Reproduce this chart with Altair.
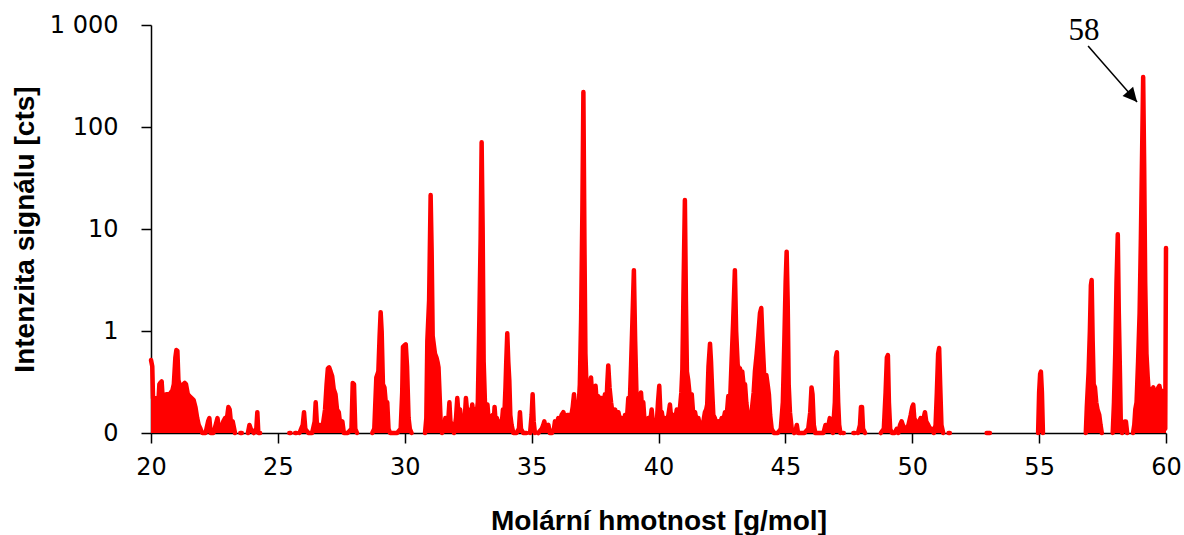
import altair as alt
import pandas as pd

# m/z values and intensities; None marks a gap (no data) in the recorded spectrum
mz = [
    20.00, 20.05, 20.08, 20.15, 20.22, 20.28, 20.33, 20.37, 20.42, 20.47, 20.55, 20.60, 20.66, 20.72,
    20.78, 20.84, 20.90, 20.96, 21.00, 21.04, 21.08, 21.14, 21.21, 21.27, 21.33, 21.38, 21.45, 21.52,
    21.60, 21.68, 21.75, 21.82, 21.88, 21.95, 22.02, 22.15, 22.25, 22.30, 22.35, 22.46, 22.55, 22.62,
    22.68, 22.76, 22.85, 22.92, 22.98, 23.05, 23.10, 23.16, 23.22, 23.31, None,
    23.52, 23.58, None,
    23.82, 23.88, 23.93, 24.05, 24.15, 24.19, 24.23, 24.30, None,
    25.45, 25.50, None,
    25.68, 25.73, None,
    25.85, 25.98, 26.03, 26.08, 26.20, 26.35, 26.45, 26.49, 26.54, 26.66, 26.75, 26.86, 26.92, 26.97,
    27.02, 27.08, 27.14, 27.20, 27.27, 27.33, 27.40, 27.46, 27.54, 27.60, 27.75, 27.90, 27.95, 28.00,
    28.05, 28.12, None,
    28.72, 28.80, 28.88, 28.96, 29.01, 29.05, 29.09, 29.14, 29.20, 29.25, 29.31, 29.36, 29.42, 29.55,
    29.70, 29.84, 29.90, 29.93, 29.98, 30.04, 30.09, 30.15, 30.20, 30.27, None,
    30.80, 30.85, 30.89, 30.96, 31.02, 31.06, 31.10, 31.14, 31.19, 31.25, 31.29, 31.33, 31.37, 31.42,
    31.47, 31.55, 31.60, 31.65, 31.72, 31.76, 31.80, 31.85, 31.94, 32.02, 32.07, 32.12, 32.18, 32.24,
    32.29, 32.35, 32.41, 32.46, 32.51, 32.58, 32.66, 32.72, 32.78, 32.83, 32.88, 32.94, 32.99, 33.03,
    33.07, 33.11, 33.16, 33.22, 33.26, 33.32, 33.37, 33.46, 33.50, 33.54, 33.58, 33.63, 33.70, 33.76,
    33.82, 33.87, 33.93, 33.97, 34.00, 34.04, 34.08, 34.12, 34.16, 34.21, 34.28, 34.40, 34.50, 34.54,
    34.58, 34.67, 34.80, None,
    34.94, 35.00, 35.04, 35.08, 35.13, None,
    35.26, 35.40, 35.46, 35.50, 35.56, 35.66, 35.72, 35.80, 35.88, 35.92, 35.98, 36.05, 36.12, 36.18,
    36.25, 36.32, 36.40, 36.47, 36.55, 36.62, 36.67, 36.72, 36.78, 36.84, 36.90, 36.95, 37.00, 37.04,
    37.08, 37.12, 37.17, 37.22, 37.28, 37.34, 37.39, 37.43, 37.48, 37.52, 37.57, 37.63, 37.69, 37.76,
    37.82, 37.89, 37.94, 37.98, 38.02, 38.07, 38.13, 38.20, 38.29, 38.35, 38.42, 38.49, 38.55, 38.62,
    38.68, 38.75, 38.81, 38.87, 38.92, 38.97, 39.03, 39.08, 39.14, 39.20, 39.26, 39.31, 39.36, 39.40,
    39.45, 39.49, 39.55, 39.60, 39.66, 39.73, 39.79, 39.86, 39.92, 39.98, 40.03, 40.08, 40.13, 40.20,
    40.26, 40.32, 40.39, 40.45, 40.51, 40.58, 40.65, 40.72, 40.78, 40.85, 40.90, 40.94, 40.99, 41.04,
    41.08, 41.12, 41.17, 41.24, 41.31, 41.37, 41.44, 41.50, 41.57, 41.63, 41.70, 41.77, 41.83, 41.88,
    41.92, 41.97, 42.03, 42.07, 42.11, 42.16, 42.22, 42.29, 42.36, 42.42, 42.49, 42.55, 42.62, 42.68,
    42.75, 42.82, 42.88, 42.94, 43.01, 43.06, 43.12, 43.17, 43.21, 43.26, 43.30, 43.35, 43.41, 43.46,
    43.52, 43.56, 43.60, 43.65, 43.70, 43.75, 43.80, 43.87, 43.93, 44.00, 44.05, 44.10, 44.17, 44.25,
    44.30, 44.35, 44.40, 44.46, 44.55, 44.70, 44.82, 44.90, 44.96, 45.01, 45.05, 45.09, 45.13, 45.18,
    45.25, 45.35, 45.42, 45.45, 45.50, 45.60, 45.75, 45.90, 45.98, 46.03, 46.07, 46.12, 46.18, 46.35,
    46.50, 46.58, 46.62, 46.70, 46.75, 46.80, 46.87, 46.95, 46.99, 47.03, 47.08, 47.12, 47.17, None,
    47.26, 47.30, None,
    47.68, 47.73, None,
    47.86, 47.94, 47.98, 48.02, 48.06, 48.14, None,
    48.76, 48.88, 48.95, 49.00, 49.04, 49.08, 49.13, 49.20, 49.30, 49.39, 49.45, 49.52, 49.58, 49.63,
    49.70, 49.78, 49.85, 49.94, 50.00, 50.04, 50.08, 50.14, 50.20, 50.27, 50.33, 50.38, 50.45, 50.50,
    50.55, 50.63, 50.70, 50.77, 50.85, 50.92, 50.97, 51.02, 51.06, 51.10, 51.15, 51.22, None,
    51.43, 51.48, None,
    52.93, 53.06, None,
    54.96, 55.00, 55.04, 55.07, 55.11, 55.15, None,
    56.84, 56.88, 56.95, 57.00, 57.04, 57.07, 57.11, 57.15, 57.20, 57.25, 57.30, 57.37, 57.42, 57.47, None,
    57.90, 57.95, 58.00, 58.05, 58.10, 58.14, 58.18, 58.22, 58.27, 58.33, 58.38, 58.42, 58.47, None,
    58.70, 58.75, 58.79, 58.84, 58.90, 58.96, 59.01, 59.06, 59.10, 59.14, 59.18, 59.23, 59.28, 59.33,
    59.37, 59.42, 59.46, 59.50, 59.55, 59.60, 59.65, 59.70, 59.74, 59.79, 59.83, 59.88, 59.92, 59.97,
    60.00,
]

cts = [
    0.52, 0.45, 0.22, 0.21, 0.22, 0.18, 0.30, 0.31, 0.32, 0.20, 0.18, 0.24, 0.24, 0.18,
    0.25, 0.26, 0.30, 0.55, 0.65, 0.64, 0.33, 0.29, 0.28, 0.30, 0.31, 0.30, 0.24, 0.23,
    0.22, 0.21, 0.18, 0.14, 0.12, 0.11, 0.10, 0.10, 0.13, 0.14, 0.10, 0.10, 0.12, 0.14,
    0.11, 0.11, 0.13, 0.14, 0.13, 0.18, 0.17, 0.12, 0.13, 0.10, None,
    0.10, 0.10, None,
    0.10, 0.12, 0.11, 0.10, 0.11, 0.16, 0.10, 0.10, None,
    0.10, 0.10, None,
    0.10, 0.10, None,
    0.10, 0.12, 0.16, 0.11, 0.10, 0.10, 0.13, 0.20, 0.12, 0.12, 0.11, 0.17, 0.30, 0.43,
    0.44, 0.40, 0.36, 0.27, 0.24, 0.17, 0.16, 0.12, 0.13, 0.10, 0.10, 0.11, 0.31, 0.30,
    0.11, 0.10, None,
    0.10, 0.11, 0.35, 0.40, 0.90, 1.53, 1.00, 0.30, 0.28, 0.20, 0.20, 0.11, 0.10, 0.10,
    0.10, 0.11, 0.25, 0.70, 0.72, 0.74, 0.45, 0.14, 0.11, 0.10, None,
    0.10, 0.14, 0.80, 2.0, 21.5, 6.0, 0.90, 0.75, 0.60, 0.55, 0.50, 0.44, 0.25, 0.12,
    0.10, 0.11, 0.14, 0.12, 0.14, 0.20, 0.13, 0.12, 0.10, 0.14, 0.22, 0.15, 0.17, 0.12,
    0.13, 0.12, 0.22, 0.16, 0.17, 0.12, 0.19, 0.14, 0.17, 0.15, 0.20, 1.3, 8.0, 71.0,
    10.0, 0.50, 0.20, 0.17, 0.19, 0.12, 0.13, 0.15, 0.12, 0.18, 0.13, 0.14, 0.12, 0.13,
    0.12, 0.17, 0.16, 0.28, 0.50, 0.95, 0.50, 0.33, 0.15, 0.12, 0.10, 0.10, 0.11, 0.16,
    0.11, 0.10, 0.10, None,
    0.10, 0.15, 0.24, 0.13, 0.10, None,
    0.10, 0.11, 0.12, 0.13, 0.11, 0.12, 0.10, 0.10, 0.11, 0.13, 0.12, 0.14, 0.13, 0.15,
    0.16, 0.14, 0.15, 0.15, 0.14, 0.18, 0.24, 0.16, 0.19, 0.16, 0.30, 1.3, 15.0, 220.0,
    8.0, 0.60, 0.25, 0.30, 0.28, 0.35, 0.22, 0.25, 0.18, 0.29, 0.19, 0.23, 0.17, 0.22,
    0.18, 0.24, 0.17, 0.30, 0.46, 0.28, 0.20, 0.15, 0.17, 0.14, 0.16, 0.13, 0.14, 0.12,
    0.15, 0.13, 0.22, 0.20, 0.47, 1.2, 3.95, 0.80, 0.20, 0.16, 0.20, 0.25, 0.16, 0.20,
    0.13, 0.13, 0.11, 0.14, 0.12, 0.17, 0.12, 0.12, 0.11, 0.20, 0.29, 0.15, 0.16, 0.12,
    0.14, 0.13, 0.15, 0.19, 0.13, 0.15, 0.13, 0.17, 0.14, 0.18, 0.25, 0.42, 3.0, 19.2,
    2.0, 0.40, 0.33, 0.22, 0.24, 0.15, 0.16, 0.13, 0.14, 0.12, 0.12, 0.13, 0.16, 0.17,
    0.19, 0.45, 0.75, 0.50, 0.28, 0.15, 0.14, 0.12, 0.13, 0.12, 0.14, 0.13, 0.16, 0.14,
    0.23, 0.20, 0.50, 1.2, 3.95, 1.0, 0.47, 0.42, 0.43, 0.38, 0.40, 0.30, 0.30, 0.20,
    0.15, 0.13, 0.15, 0.14, 0.19, 0.25, 0.40, 0.60, 0.90, 1.5, 1.68, 0.80, 0.35, 0.37,
    0.30, 0.24, 0.15, 0.11, 0.10, 0.10, 0.11, 0.20, 0.80, 3.0, 6.0, 2.0, 0.30, 0.16,
    0.11, 0.10, 0.11, 0.12, 0.10, 0.10, 0.10, 0.11, 0.16, 0.28, 0.24, 0.12, 0.10, 0.10,
    0.10, 0.12, 0.11, 0.12, 0.14, 0.11, 0.10, 0.20, 0.55, 0.62, 0.20, 0.12, 0.10, None,
    0.10, 0.10, None,
    0.10, 0.10, None,
    0.10, 0.12, 0.18, 0.18, 0.11, 0.10, None,
    0.10, 0.11, 0.25, 0.55, 0.58, 0.20, 0.11, 0.10, 0.10, 0.11, 0.10, 0.12, 0.13, 0.12,
    0.11, 0.11, 0.12, 0.15, 0.18, 0.19, 0.14, 0.13, 0.12, 0.13, 0.14, 0.12, 0.14, 0.16,
    0.13, 0.12, 0.11, 0.11, 0.10, 0.12, 0.25, 0.60, 0.68, 0.30, 0.12, 0.10, None,
    0.10, 0.10, None,
    0.10, 0.10, None,
    0.10, 0.25, 0.38, 0.40, 0.25, 0.10, None,
    0.10, 0.18, 0.40, 1.0, 2.8, 3.16, 0.80, 0.30, 0.28, 0.20, 0.17, 0.15, 0.12, 0.10, None,
    0.10, 0.20, 0.60, 3.0, 8.9, 1.5, 0.45, 0.12, 0.10, 0.12, 0.13, 0.13, 0.10, None,
    0.10, 0.12, 0.17, 0.20, 0.50, 1.5, 8.0, 60.0, 309.0, 40.0, 3.0, 0.60, 0.35, 0.23,
    0.20, 0.27, 0.26, 0.28, 0.18, 0.15, 0.26, 0.28, 0.29, 0.25, 0.26, 0.15, 0.13, 0.11,
    6.5,
]

y_ticks = [0.1, 1, 10, 100, 1000]
x_ticks = [20, 25, 30, 35, 40, 45, 50, 55, 60]

# annotation "58" with arrow pointing at the main peak
ann_label = ["58"]
ann_text_pos = [56.77, 713.0]
arrow_start = [56.93, 622.0]
arrow_tip = [58.86, 176.0]

rows = []
seg = 0
for m, c in zip(mz, cts):
    if c is None:
        seg += 1
        continue
    rows.append({"mz": m, "cts": c, "seg": seg})
df = pd.DataFrame(rows)

LABEL_FONT = "DejaVu Sans"
TITLE_FONT = "Liberation Sans"

x_enc = alt.X(
    "mz:Q",
    scale=alt.Scale(domain=[20, 60], nice=False, zero=False),
    axis=alt.Axis(
        values=x_ticks, title="Molární hmotnost [g/mol]", grid=False, labelFlush=False,
        labelFont=LABEL_FONT, labelFontSize=24, labelColor="#000000", labelPadding=12,
        tickSize=10, tickColor="#000000", tickWidth=1.5,
        domainColor="#000000", domainWidth=1.5,
        titleFont=TITLE_FONT, titleFontSize=28, titleFontWeight="bold", titleColor="#000000",
        titleBaseline="alphabetic", titleY=96,
    ),
)
y_enc = alt.Y(
    "cts:Q",
    scale=alt.Scale(type="log", domain=[0.1, 1000], nice=False),
    axis=alt.Axis(
        values=y_ticks, title="Intenzita signálu [cts]", grid=False, labelFlush=False,
        labelExpr="datum.value < 0.5 ? '0' : (datum.value >= 1000 ? '1 000' : format(datum.value, 'd'))",
        labelFont=LABEL_FONT, labelFontSize=24, labelColor="#000000", labelPadding=23,
        tickSize=10, tickColor="#000000", tickWidth=1.5,
        domainColor="#000000", domainWidth=1.5,
        titleFont=TITLE_FONT, titleFontSize=28, titleFontWeight="bold", titleColor="#000000",
        titleBaseline="alphabetic", titleX=-118, titleY=204, titleAngle=270,
    ),
)

base = alt.Chart(df)
area = base.mark_area(color="#ff0000", opacity=1).encode(
    x=x_enc, y=y_enc, y2=alt.datum(0.1), detail="seg:N"
)
line = base.mark_line(color="#ff0000", strokeWidth=4.5, strokeJoin="round", strokeCap="round").encode(
    x="mz:Q", y="cts:Q", detail="seg:N"
)

ann_df = pd.DataFrame({"mz": [ann_text_pos[0]], "cts": [ann_text_pos[1]], "label": ann_label})
text = alt.Chart(ann_df).mark_text(
    font="Liberation Serif", fontSize=31, align="center", baseline="alphabetic", color="#000000"
).encode(x="mz:Q", y="cts:Q", text="label:N")

arrow_df = pd.DataFrame({
    "mz": [arrow_start[0]], "cts": [arrow_start[1]],
    "mz2": [arrow_tip[0]], "cts2": [arrow_tip[1]],
})
arrow_line = alt.Chart(arrow_df).mark_rule(color="#000000", strokeWidth=1.5).encode(
    x="mz:Q", y="cts:Q", x2="mz2:Q", y2="cts2:Q"
)
arrow_head = alt.Chart(arrow_df).mark_point(
    shape="M0,0L-1,2L1,2Z", angle=138.8, size=196, filled=True, color="#000000", opacity=1, strokeWidth=0
).encode(x="mz2:Q", y="cts2:Q")

chart = alt.layer(area, line, arrow_line, arrow_head, text).properties(
    width=1015, height=408,
    autosize=alt.AutoSizeParams(type="none"),
    padding={"left": 151, "top": 25, "right": 18, "bottom": 102},
    background="#ffffff",
).configure_view(stroke=None)

chart.save("out.html", embed_options={"renderer": "svg", "actions": False})
